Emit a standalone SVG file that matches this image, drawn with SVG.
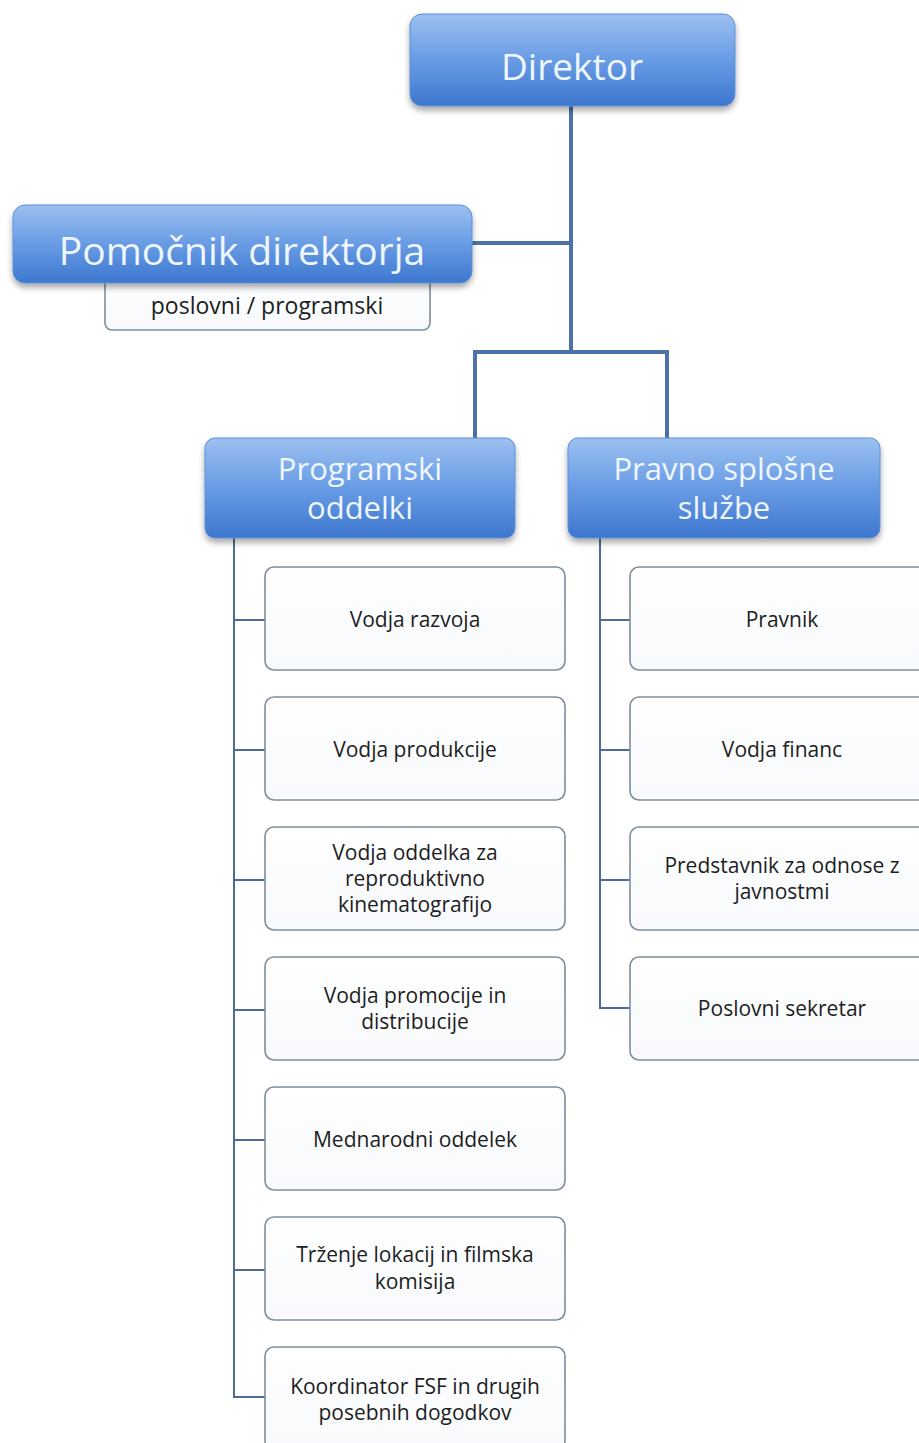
<svg xmlns="http://www.w3.org/2000/svg" width="919" height="1443" viewBox="0 0 919 1443">
<defs>
<linearGradient id="blue" x1="0" y1="0" x2="0" y2="1">
<stop offset="0" stop-color="#9cc0f0"/>
<stop offset="0.45" stop-color="#6d9fe6"/>
<stop offset="1" stop-color="#3d77cf"/>
</linearGradient>
<linearGradient id="white" x1="0" y1="0" x2="0" y2="1">
<stop offset="0" stop-color="#ffffff"/>
<stop offset="1" stop-color="#f7f9fc"/>
</linearGradient>
<filter id="sh" x="-10%" y="-10%" width="120%" height="130%">
<feGaussianBlur in="SourceAlpha" stdDeviation="3"/>
<feOffset dx="0" dy="4" result="b"/>
<feComponentTransfer><feFuncA type="linear" slope="0.35"/></feComponentTransfer>
<feMerge><feMergeNode/><feMergeNode in="SourceGraphic"/></feMerge>
</filter>
</defs>
<style>
.bb{fill:url(#blue);stroke:#5c8fd9;stroke-width:1;filter:url(#sh)}
.wb{fill:url(#white);stroke:#7f8d9c;stroke-width:1.6}
.bt{font-family:"Open Sans",Lato,sans-serif;fill:#eef6ff;text-anchor:middle}
.wt{font-family:"Open Sans",Lato,sans-serif;fill:#1e1e1e;font-size:21px;text-anchor:middle}
.main{stroke:#4d72a5;stroke-width:4;fill:none}
.sub{stroke:#4d6c97;stroke-width:2;fill:none}
</style>
<rect width="919" height="1443" fill="#ffffff"/>
<g id="connectors">
<path class="main" d="M571,106 V352 M470,243 H571 M475,440 V352 H667 V440"/>
<path class="sub" d="M234,538 V1397 H265 M234,620 H265 M234,750 H265 M234,880 H265 M234,1010 H265 M234,1140 H265 M234,1270 H265"/>
<path class="sub" d="M600,538 V1008 H630 M600,620 H630 M600,750 H630 M600,880 H630"/>
</g>
<g id="direktor">
<rect class="bb" x="410" y="14" width="325" height="92" rx="12"/>
<text class="bt" x="572" y="80" font-size="37">Direktor</text>
</g>
<g id="pomocnik">
<rect class="wb" x="105" y="270" width="325" height="60" rx="7"/>
<text class="wt" x="267" y="314" style="font-size:23px">poslovni / programski</text>
<rect class="bb" x="13" y="205" width="459" height="78" rx="12"/>
<text class="bt" x="242" y="265" font-size="39">Pomočnik direktorja</text>
</g>
<g id="programski">
<rect class="bb" x="205" y="438" width="310" height="100" rx="10"/>
<text class="bt" x="360" y="480" font-size="31">Programski</text>
<text class="bt" x="360" y="519" font-size="31">oddelki</text>
</g>
<g id="pravno">
<rect class="bb" x="568" y="438" width="312" height="100" rx="10"/>
<text class="bt" x="724" y="480" font-size="31">Pravno splošne</text>
<text class="bt" x="724" y="519" font-size="31">službe</text>
</g>
<g id="l1"><rect class="wb" x="265" y="567" width="300" height="103" rx="9"/><text class="wt" x="415" y="627">Vodja razvoja</text></g>
<g id="l2"><rect class="wb" x="265" y="697" width="300" height="103" rx="9"/><text class="wt" x="415" y="757">Vodja produkcije</text></g>
<g id="l3"><rect class="wb" x="265" y="827" width="300" height="103" rx="9"/><text class="wt" x="415" y="860">Vodja oddelka za</text><text class="wt" x="415" y="886">reproduktivno</text><text class="wt" x="415" y="912">kinematografijo</text></g>
<g id="l4"><rect class="wb" x="265" y="957" width="300" height="103" rx="9"/><text class="wt" x="415" y="1003">Vodja promocije in</text><text class="wt" x="415" y="1029">distribucije</text></g>
<g id="l5"><rect class="wb" x="265" y="1087" width="300" height="103" rx="9"/><text class="wt" x="415" y="1147">Mednarodni oddelek</text></g>
<g id="l6"><rect class="wb" x="265" y="1217" width="300" height="103" rx="9"/><text class="wt" x="415" y="1262">Trženje lokacij in filmska</text><text class="wt" x="415" y="1289">komisija</text></g>
<g id="l7"><rect class="wb" x="265" y="1347" width="300" height="103" rx="9"/><text class="wt" x="415" y="1394">Koordinator FSF in drugih</text><text class="wt" x="415" y="1420">posebnih dogodkov</text></g>
<g id="r1"><rect class="wb" x="630" y="567" width="300" height="103" rx="9"/><text class="wt" x="782" y="627">Pravnik</text></g>
<g id="r2"><rect class="wb" x="630" y="697" width="300" height="103" rx="9"/><text class="wt" x="782" y="757">Vodja financ</text></g>
<g id="r3"><rect class="wb" x="630" y="827" width="300" height="103" rx="9"/><text class="wt" x="782" y="873">Predstavnik za odnose z</text><text class="wt" x="782" y="899">javnostmi</text></g>
<g id="r4"><rect class="wb" x="630" y="957" width="300" height="103" rx="9"/><text class="wt" x="782" y="1016">Poslovni sekretar</text></g>
</svg>
